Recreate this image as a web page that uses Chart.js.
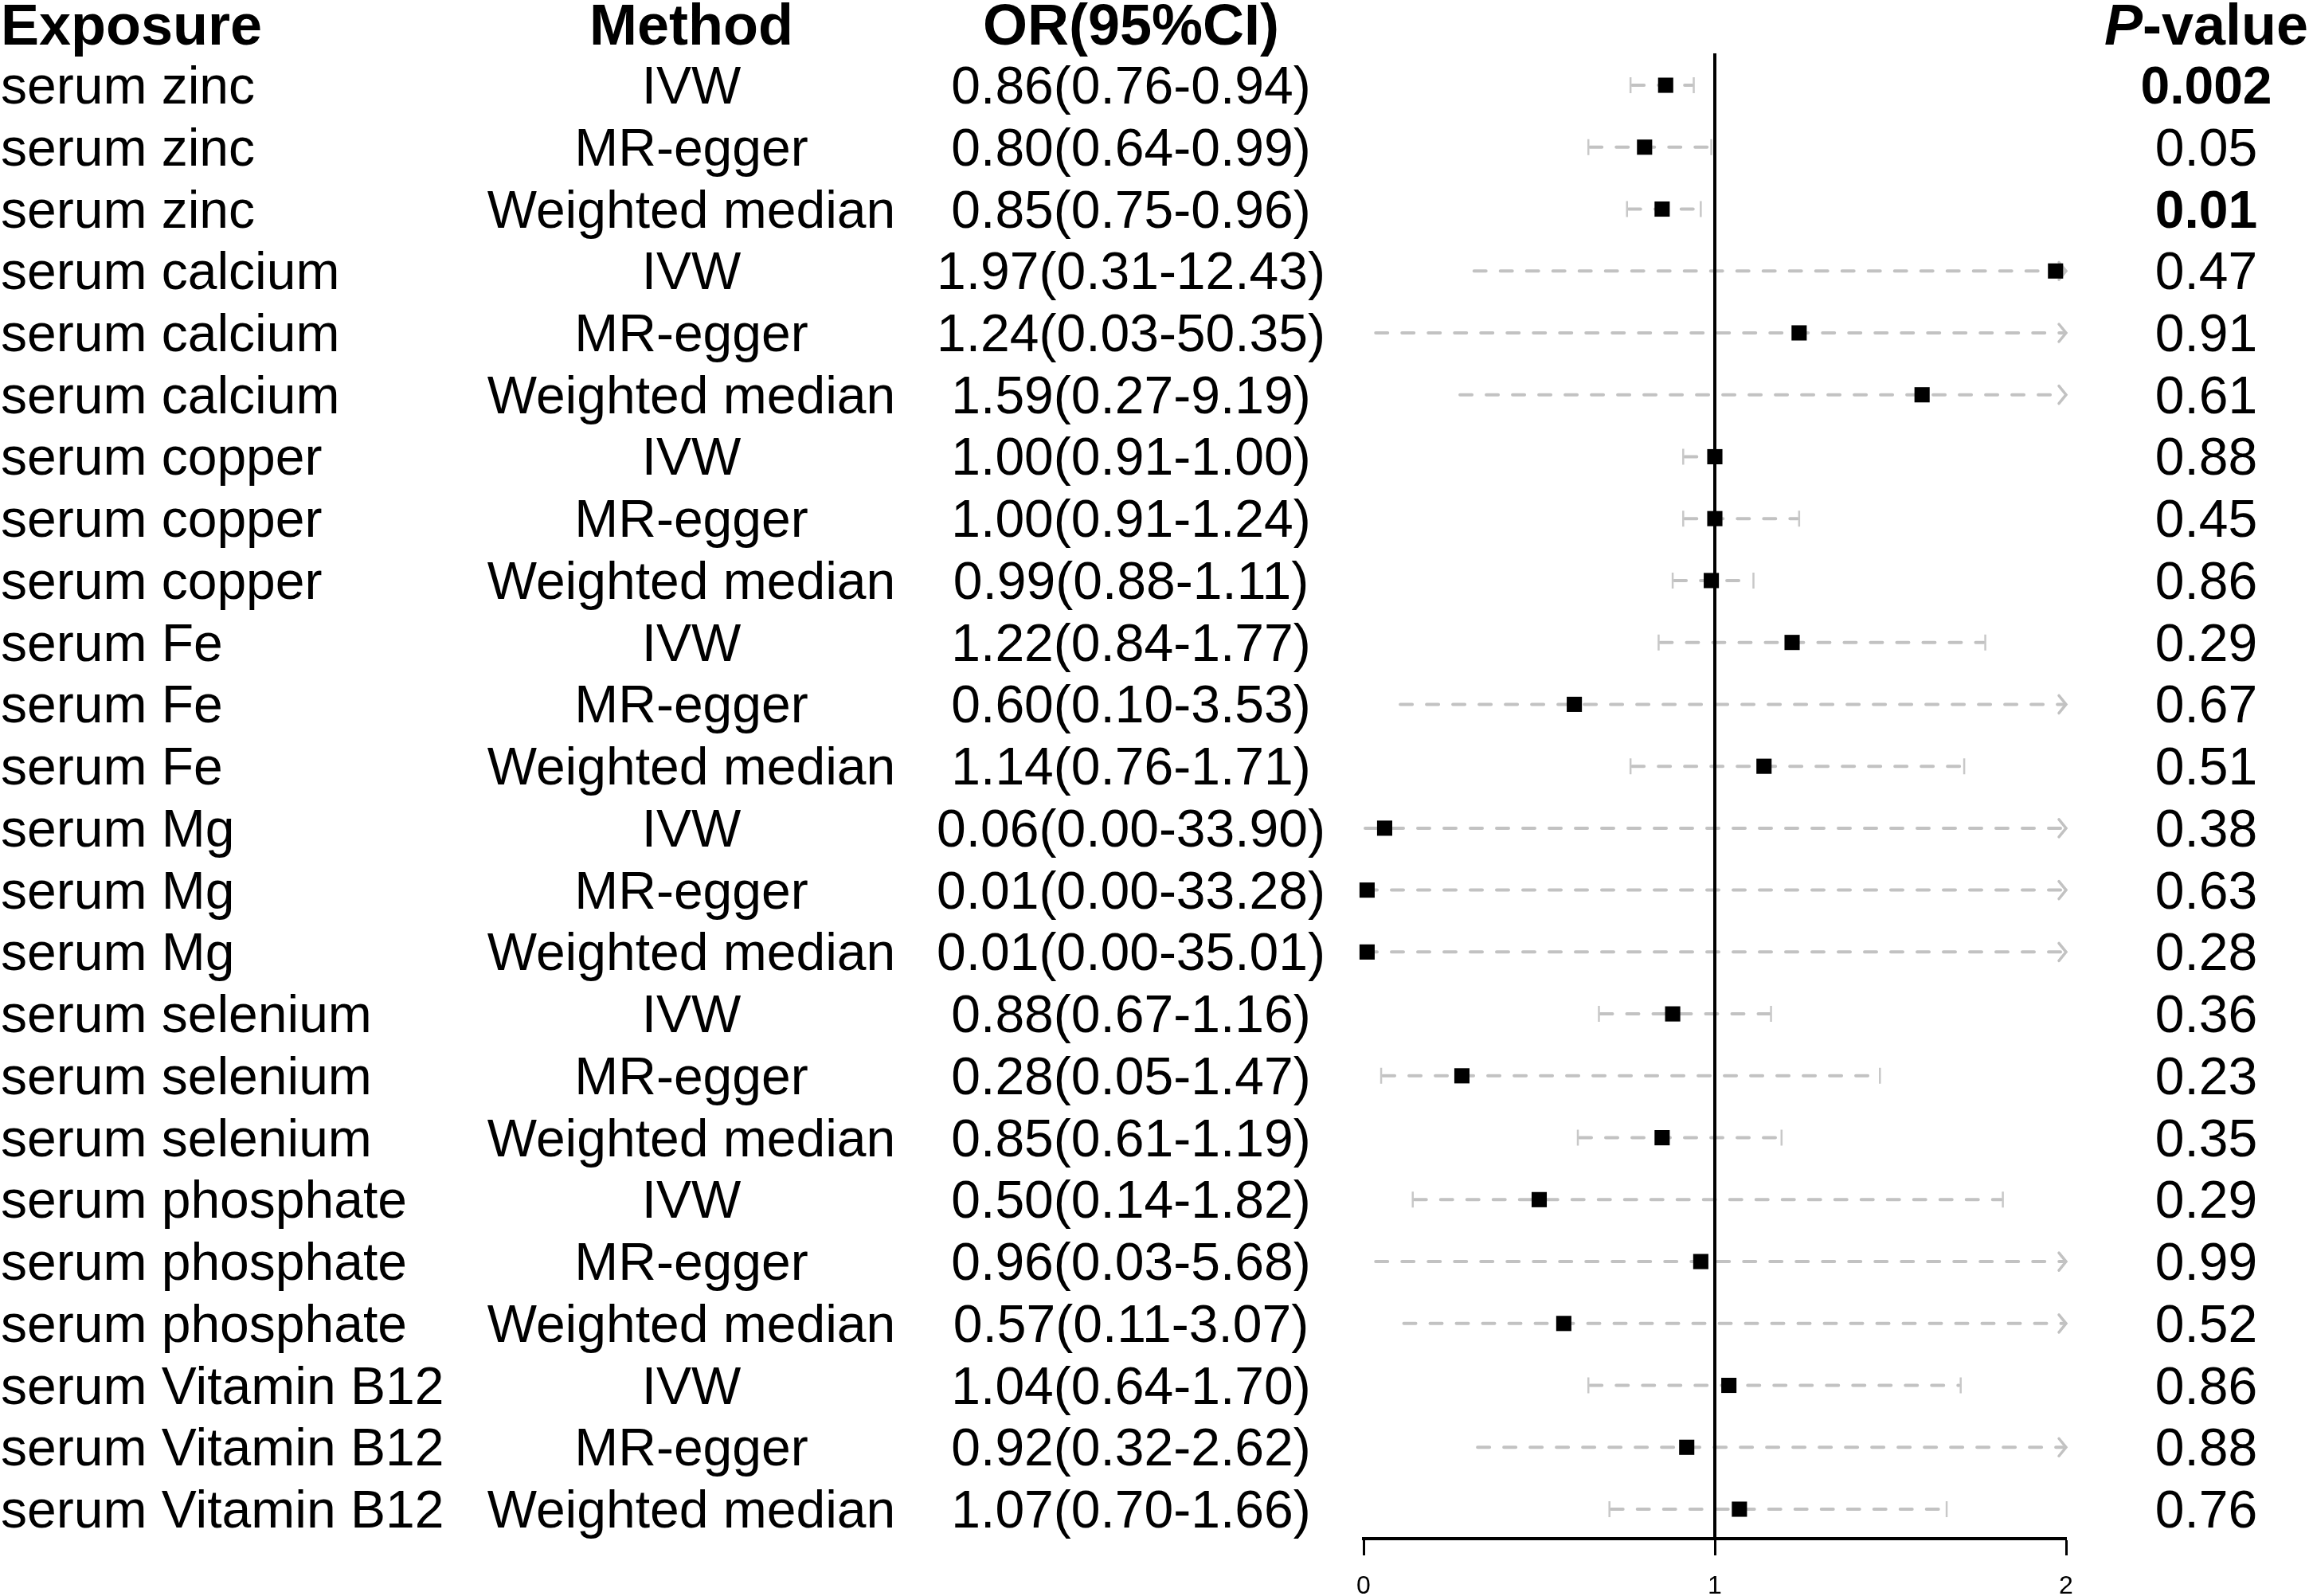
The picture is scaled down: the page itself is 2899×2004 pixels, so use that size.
<!DOCTYPE html>
<html>
<head>
<meta charset="utf-8">
<script src="https://cdn.jsdelivr.net/npm/chart.js@4"></script>
<style>
  html, body { margin: 0; padding: 0; background: #fff; overflow: hidden; }
  #wrap { width: 2899px; height: 2004px; position: relative; }
</style>
</head>
<body>
<div id="wrap"><canvas id="forest"></canvas></div>
<script>
// data
const exposures = [
  'serum zinc', 'serum zinc', 'serum zinc',
  'serum calcium', 'serum calcium', 'serum calcium',
  'serum copper', 'serum copper', 'serum copper',
  'serum Fe', 'serum Fe', 'serum Fe',
  'serum Mg', 'serum Mg', 'serum Mg',
  'serum selenium', 'serum selenium', 'serum selenium',
  'serum phosphate', 'serum phosphate', 'serum phosphate',
  'serum Vitamin B12', 'serum Vitamin B12', 'serum Vitamin B12'
];
const methods = [
  'IVW', 'MR-egger', 'Weighted median', 'IVW', 'MR-egger', 'Weighted median',
  'IVW', 'MR-egger', 'Weighted median', 'IVW', 'MR-egger', 'Weighted median',
  'IVW', 'MR-egger', 'Weighted median', 'IVW', 'MR-egger', 'Weighted median',
  'IVW', 'MR-egger', 'Weighted median', 'IVW', 'MR-egger', 'Weighted median'
];
const oddsRatio = [0.86, 0.80, 0.85, 1.97, 1.24, 1.59, 1.00, 1.00, 0.99, 1.22, 0.60, 1.14,
                   0.06, 0.01, 0.01, 0.88, 0.28, 0.85, 0.50, 0.96, 0.57, 1.04, 0.92, 1.07];
const ciLower = [0.76, 0.64, 0.75, 0.31, 0.03, 0.27, 0.91, 0.91, 0.88, 0.84, 0.10, 0.76,
                 0.00, 0.00, 0.00, 0.67, 0.05, 0.61, 0.14, 0.03, 0.11, 0.64, 0.32, 0.70];
const ciUpper = [0.94, 0.99, 0.96, 12.43, 50.35, 9.19, 1.00, 1.24, 1.11, 1.77, 3.53, 1.71,
                 33.90, 33.28, 35.01, 1.16, 1.47, 1.19, 1.82, 5.68, 3.07, 1.70, 2.62, 1.66];
const pValues = ['0.002', '0.05', '0.01', '0.47', '0.91', '0.61', '0.88', '0.45', '0.86', '0.29', '0.67', '0.51',
                 '0.38', '0.63', '0.28', '0.36', '0.23', '0.35', '0.29', '0.99', '0.52', '0.86', '0.88', '0.76'];
const xTicks = [0, 1, 2];

const FONT = '"Liberation Sans", Arial, Helvetica, sans-serif';
const xMin = xTicks[0], xMax = xTicks[xTicks.length - 1];

function orLabel(i) {
  return oddsRatio[i].toFixed(2) + '(' + ciLower[i].toFixed(2) + '-' + ciUpper[i].toFixed(2) + ')';
}

// confidence intervals + reference line, under the boxes
const ciPlugin = {
  id: 'ciLines',
  beforeDatasetsDraw(chart) {
    const ctx = chart.ctx, xs = chart.scales.x, ys = chart.scales.y;
    const area = chart.chartArea;
    ctx.save();
    for (let i = 0; i < oddsRatio.length; i++) {
      const y = ys.getPixelForValue(i);
      const clipped = ciUpper[i] > xMax;
      const x0 = xs.getPixelForValue(Math.max(ciLower[i], xMin));
      const x1 = xs.getPixelForValue(Math.min(ciUpper[i], xMax));
      ctx.strokeStyle = '#c2c2c2';
      ctx.lineWidth = 4;
      ctx.lineCap = 'round';
      ctx.setLineDash([15, 18]);
      ctx.beginPath();
      ctx.moveTo(x0 + 2, y);
      ctx.lineTo(clipped ? x1 - 4 : x1 - 2, y);
      ctx.stroke();
      ctx.setLineDash([]);
      if (clipped) {
        ctx.lineWidth = 3.5;
        ctx.beginPath();
        ctx.moveTo(x1 - 9, y - 11);
        ctx.lineTo(x1, y);
        ctx.lineTo(x1 - 9, y + 11);
        ctx.stroke();
      } else {
        ctx.strokeStyle = '#c8c8c8';
        ctx.lineWidth = 2.5;
        ctx.lineCap = 'butt';
        ctx.beginPath();
        ctx.moveTo(x0, y - 10); ctx.lineTo(x0, y + 10);
        ctx.moveTo(x1, y - 10); ctx.lineTo(x1, y + 10);
        ctx.stroke();
      }
    }
    // line of no effect
    const xr = xs.getPixelForValue(1);
    ctx.strokeStyle = '#000';
    ctx.lineWidth = 4;
    ctx.lineCap = 'butt';
    ctx.beginPath();
    ctx.moveTo(xr, area.top);
    ctx.lineTo(xr, area.bottom);
    ctx.stroke();
    ctx.restore();
  }
};

// table text columns
const tablePlugin = {
  id: 'table',
  afterDraw(chart) {
    const ctx = chart.ctx, ys = chart.scales.y;
    ctx.save();
    ctx.fillStyle = '#000';
    ctx.textBaseline = 'alphabetic';

    const hy = ys.getPixelForValue(-1) + 27;
    ctx.font = 'bold 72px ' + FONT;
    ctx.textAlign = 'left';
    ctx.fillText('Exposure', 1, hy);
    ctx.textAlign = 'center';
    ctx.fillText('Method', 868, hy);
    ctx.fillText('OR(95%CI)', 1420, hy);
    // P-value header with italic P
    ctx.font = 'italic bold 72px ' + FONT;
    const wP = ctx.measureText('P').width;
    ctx.font = 'bold 72px ' + FONT;
    const wRest = ctx.measureText('-value').width;
    const startX = 2770 - (wP + wRest) / 2;
    ctx.textAlign = 'left';
    ctx.font = 'italic bold 72px ' + FONT;
    ctx.fillText('P', startX, hy);
    ctx.font = 'bold 72px ' + FONT;
    ctx.fillText('-value', startX + wP, hy);

    for (let i = 0; i < exposures.length; i++) {
      const by = ys.getPixelForValue(i) + 23;
      ctx.font = '66px ' + FONT;
      ctx.textAlign = 'left';
      ctx.fillText(exposures[i], 1, by);
      ctx.textAlign = 'center';
      ctx.fillText(methods[i], 868, by);
      ctx.fillText(orLabel(i), 1420, by);
      ctx.font = (parseFloat(pValues[i]) < 0.05 ? 'bold ' : '') + '66px ' + FONT;
      ctx.fillText(pValues[i], 2770, by);
    }
    ctx.restore();
  }
};

new Chart(document.getElementById('forest'), {
  type: 'scatter',
  data: {
    datasets: [{
      label: 'OR',
      data: oddsRatio.map((v, i) => ({ x: v, y: i })),
      pointStyle: 'rect',
      pointRadius: 13.5,
      pointHoverRadius: 13.5,
      backgroundColor: '#000',
      borderColor: '#000',
      borderWidth: 0,
      clip: false
    }]
  },
  options: {
    responsive: true,
    maintainAspectRatio: false,
    devicePixelRatio: 1,
    animation: false,
    layout: { padding: { left: 1712, right: 305, top: 67, bottom: 0 } },
    plugins: { legend: { display: false }, tooltip: { enabled: false } },
    scales: {
      x: {
        type: 'linear',
        min: xMin,
        max: xMax,
        afterFit(scale) { scale.height = 72; },
        afterBuildTicks(scale) { scale.ticks = xTicks.map(v => ({ value: v })); },
        border: { display: true, color: '#000', width: 4 },
        grid: {
          display: true,
          drawOnChartArea: false,
          drawTicks: true,
          tickLength: 21,
          tickWidth: 3,
          tickColor: '#000'
        },
        ticks: {
          color: '#000',
          padding: 20,
          font: { family: FONT, size: 32 },
          callback: v => String(v)
        }
      },
      y: {
        type: 'linear',
        display: false,
        reverse: true,
        min: -0.515,
        max: 23.476
      }
    }
  },
  plugins: [ciPlugin, tablePlugin]
});
</script>
</body>
</html>
